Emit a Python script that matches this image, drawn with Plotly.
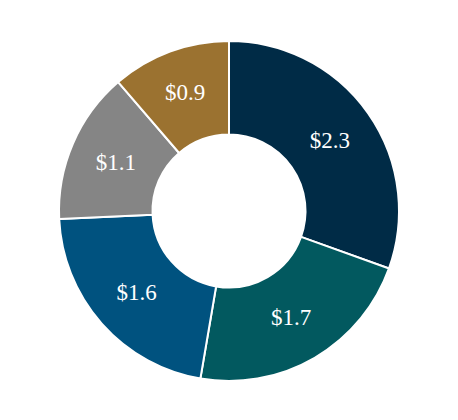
import plotly.graph_objects as go

labels = ["A", "B", "C", "D", "E"]
values = [2.32, 1.69, 1.64, 1.10, 0.86]
text_labels = ["$2.3", "$1.7", "$1.6", "$1.1", "$0.9"]
colors = ["#002b46", "#02595f", "#00527f", "#858585", "#9b7230"]

fig = go.Figure(data=[go.Pie(
    labels=labels,
    values=values,
    text=text_labels,
    textinfo="text",
    textposition="inside",
    insidetextorientation="horizontal",
    hole=0.45,
    sort=False,
    direction="clockwise",
    rotation=0,
    marker=dict(colors=colors, line=dict(color="white", width=2)),
    textfont=dict(family="Liberation Serif", size=23, color="white"),
    hoverinfo="skip",
)])
fig.update_layout(
    width=458,
    height=420,
    showlegend=False,
    margin=dict(l=0, r=16, t=33, b=47),
    paper_bgcolor="white",
)
fig.write_html("out.html")
